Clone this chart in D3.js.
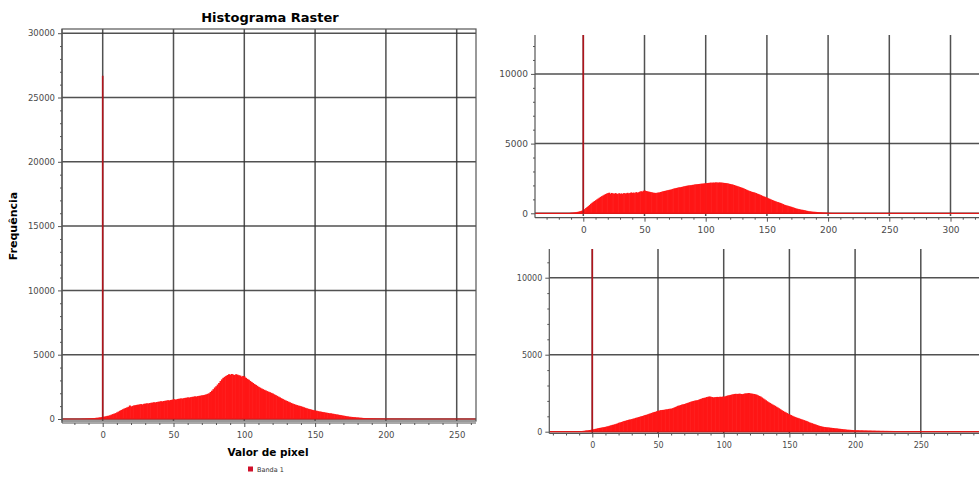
<!DOCTYPE html>
<html>
<head>
<meta charset="utf-8">
<script src="https://cdn.jsdelivr.net/npm/d3@7"></script>
<style>
  body { margin: 0; background: #fff; }
  svg { display: block; font-family: "DejaVu Sans", Verdana, sans-serif; }
</style>
</head>
<body>
<svg id="chart" width="979" height="482"></svg>
<script>
// ---------------------------- DATA ----------------------------//
// histogram counts per pixel value, first bin = start value
const startA = -15;
const countsA = [
  10, 15, 20, 25, 30, 40, 45, 55, 60, 70,
  90, 100, 115, 130, 150, 170, 190, 210, 240, 260,
  290, 340, 380, 420, 460, 520, 580, 640, 700, 760,
  810, 860, 900, 950, 1050, 980, 1020, 1060, 1080, 1100,
  1120, 1140, 1160, 1130, 1180, 1200, 1220, 1210, 1240, 1260,
  1280, 1300, 1290, 1320, 1340, 1360, 1380, 1370, 1400, 1420,
  1440, 1460, 1450, 1480, 1500, 1550, 1510, 1530, 1560, 1580,
  1600, 1590, 1620, 1640, 1660, 1680, 1670, 1700, 1720, 1740,
  1760, 1750, 1780, 1800, 1820, 1840, 1860, 1880, 1920, 1960,
  2000, 2100, 2200, 2320, 2450, 2550, 2680, 2800, 2950, 3080,
  3200, 3280, 3350, 3420, 3480, 3450, 3500, 3460, 3420, 3480,
  3450, 3400, 3380, 3300, 3350, 3300, 3200, 3120, 3050, 2960,
  2880, 2800, 2720, 2650, 2580, 2500, 2440, 2380, 2320, 2270,
  2220, 2170, 2120, 2080, 2030, 1980, 1920, 1860, 1800, 1740,
  1680, 1620, 1560, 1500, 1450, 1400, 1350, 1300, 1250, 1200,
  1160, 1120, 1080, 1050, 1020, 990, 950, 910, 870, 830,
  800, 770, 740, 710, 680, 660, 640, 610, 590, 570,
  550, 530, 510, 490, 470, 450, 440, 420, 400, 380,
  360, 340, 320, 300, 280, 260, 240, 220, 200, 185,
  170, 160, 150, 140, 130, 120, 110, 100, 90, 80,
  72, 65, 58, 52, 48, 44, 40, 36, 32, 28,
  25, 22, 20, 18, 16, 15, 14, 13, 12, 11,
  10, 10, 9, 9, 8, 8, 7, 7, 6, 6
];

const startB = -15;
const countsB = [
  10, 12, 15, 20, 25, 40, 45, 55, 65, 80,
  100, 120, 140, 170, 200, 240, 300, 380, 450, 520,
  600, 680, 750, 820, 880, 940, 1000, 1060, 1120, 1180,
  1230, 1280, 1330, 1380, 1420, 1450, 1480, 1400, 1460, 1430,
  1400, 1450, 1420, 1380, 1440, 1400, 1430, 1390, 1450, 1420,
  1440, 1470, 1430, 1460, 1500, 1460, 1490, 1450, 1520, 1480,
  1510, 1550, 1580, 1560, 1620, 1640, 1600, 1580, 1560, 1540,
  1520, 1500, 1480, 1470, 1460, 1470, 1490, 1500, 1530, 1550,
  1580, 1600, 1620, 1640, 1660, 1680, 1700, 1720, 1750, 1780,
  1800, 1820, 1840, 1860, 1870, 1890, 1910, 1930, 1950, 1970,
  1990, 2000, 2010, 2020, 2040, 2050, 2070, 2080, 2090, 2100,
  2110, 2120, 2130, 2140, 2150, 2160, 2170, 2180, 2190, 2200,
  2190, 2210, 2200, 2220, 2210, 2200, 2220, 2210, 2200, 2190,
  2180, 2170, 2160, 2140, 2120, 2100, 2080, 2060, 2030, 2000,
  1970, 1940, 1910, 1880, 1850, 1820, 1780, 1740, 1700, 1660,
  1620, 1590, 1560, 1530, 1510, 1480, 1450, 1410, 1380, 1340,
  1300, 1260, 1220, 1190, 1160, 1120, 1080, 1040, 1000, 960,
  930, 890, 860, 820, 800, 770, 740, 700, 660, 620,
  590, 560, 540, 510, 490, 460, 430, 400, 370, 340,
  320, 300, 280, 260, 250, 230, 210, 190, 170, 150,
  140, 130, 120, 110, 105, 100, 90, 80, 70, 60,
  55, 50, 45, 40, 35, 30, 28, 25, 22, 20,
  18, 16, 15, 14, 12, 10, 10, 8, 8, 6
];

const startC = -15;
const countsC = [
  10, 12, 15, 18, 22, 30, 35, 45, 55, 65,
  80, 90, 100, 110, 125, 140, 160, 180, 200, 220,
  240, 255, 270, 285, 300, 320, 340, 360, 390, 410,
  440, 460, 480, 510, 540, 580, 600, 630, 660, 690,
  710, 740, 760, 790, 800, 820, 850, 870, 900, 920,
  950, 970, 1000, 1020, 1050, 1080, 1100, 1130, 1160, 1190,
  1220, 1250, 1280, 1300, 1330, 1360, 1380, 1400, 1410, 1420,
  1430, 1450, 1460, 1480, 1490, 1500, 1530, 1560, 1600, 1640,
  1680, 1700, 1730, 1760, 1780, 1800, 1830, 1860, 1890, 1920,
  1950, 1980, 2000, 2020, 2040, 2050, 2080, 2120, 2150, 2180,
  2200, 2220, 2250, 2270, 2290, 2270, 2250, 2230, 2240, 2250,
  2260, 2250, 2270, 2260, 2280, 2270, 2300, 2330, 2350, 2370,
  2390, 2410, 2430, 2450, 2460, 2450, 2460, 2470, 2450, 2440,
  2460, 2480, 2490, 2500, 2510, 2490, 2480, 2460, 2450, 2430,
  2400, 2360, 2320, 2280, 2220, 2160, 2100, 2040, 1980, 1920,
  1870, 1820, 1770, 1720, 1680, 1620, 1570, 1520, 1460, 1400,
  1350, 1300, 1260, 1210, 1160, 1120, 1080, 1040, 1000, 960,
  930, 900, 870, 840, 810, 780, 750, 720, 690, 650,
  610, 580, 550, 520, 490, 460, 430, 400, 370, 350,
  330, 310, 300, 290, 280, 270, 260, 250, 240, 230,
  220, 210, 200, 190, 180, 170, 160, 150, 140, 130,
  125, 120, 115, 110, 105, 100, 98, 95, 92, 90,
  88, 85, 83, 80, 78, 76, 74, 72, 70, 68,
  66, 64, 62, 60, 58, 56, 55, 54, 53, 52,
  51, 50, 49, 48, 47, 46, 45, 44, 43, 42,
  41, 40, 39, 38, 37, 36, 35, 34, 33, 32,
  31, 30, 29, 28, 27, 26, 25, 24, 23, 22,
  20, 18, 16, 14, 12, 10, 8, 6, 5, 4
];

// count of pixels with value 0 (the tall spike)
const spikeA = 26700;
const spikeB = 26700;
const spikeC = 26700;

const xTicksA = [0, 50, 100, 150, 200, 250];
const yTicksA = [0, 5000, 10000, 15000, 20000, 25000, 30000];
const xTicksB = [0, 50, 100, 150, 200, 250, 300];
const yTicksB = [0, 5000, 10000];
const xTicksC = [0, 50, 100, 150, 200, 250];
const yTicksC = [0, 5000, 10000];

//------------------------- PANELS -----------------------------//
const svg = d3.select("#chart");

function drawPanel(id, p, counts, start, spike, xTicks, yTicks) {
  const x = d3.scaleLinear().domain([0, xTicks[1]]).range([p.x0, p.x50]);
  const y = d3.scaleLinear().domain([0, 5000]).range([p.y0, p.y5000]);

  const g = svg.append("g").attr("class", "panel-" + id);

  g.append("clipPath").attr("id", "clip-" + id)
    .append("rect")
    .attr("x", p.left).attr("y", p.top)
    .attr("width", p.right - p.left).attr("height", p.bottom - p.top);

  const canvas = g.append("g").attr("clip-path", "url(#clip-" + id + ")");

  // grid
  canvas.selectAll(".vgrid").data(xTicks).enter().append("line")
    .attr("x1", d => x(d)).attr("x2", d => x(d))
    .attr("y1", p.top).attr("y2", p.bottom)
    .style("stroke", "#333").style("stroke-width", 1.5).style("opacity", 0.85);
  canvas.selectAll(".hgrid").data(yTicks).enter().append("line")
    .attr("x1", p.left).attr("x2", p.right)
    .attr("y1", d => y(d)).attr("y2", d => y(d))
    .style("stroke", "#333").style("stroke-width", 1.5).style("opacity", 0.85);

  // histogram bars
  const bw = x(1) - x(0);
  canvas.selectAll(".bar").data(counts).enter().append("rect")
    .attr("x", (d, i) => x(start + i - 0.5))
    .attr("width", bw + 0.6)
    .attr("y", d => y(d))
    .attr("height", d => y(0) - y(d))
    .style("fill", "#ff1616");

  // baseline of empty bins
  canvas.append("line")
    .attr("x1", p.left).attr("x2", p.right)
    .attr("y1", y(0)).attr("y2", y(0))
    .style("stroke", "#e01818").style("stroke-width", 1.2);

  // spike at 0
  canvas.append("line")
    .attr("x1", x(0)).attr("x2", x(0))
    .attr("y1", y(0)).attr("y2", y(spike))
    .style("stroke", "#b0141c").style("stroke-width", 1.6);

  if (p.frame) {
    g.append("rect")
      .attr("x", p.left).attr("y", p.top)
      .attr("width", p.right - p.left).attr("height", p.bottom - p.top)
      .style("fill", "none").style("stroke", "#555").style("stroke-width", 1.2);
  }

  // y axis
  const yMinor = d3.range(0, y.invert(p.top), 1000).filter(v => v % 5000 !== 0);
  const yAxis = g.append("g").attr("transform", "translate(" + p.left + ",0)");
  yAxis.call(d3.axisLeft(y).tickValues(yTicks).tickSize(4).tickSizeOuter(0)
    .tickFormat(d3.format("d")));
  yAxis.append("g").call(d3.axisLeft(y).tickValues(yMinor).tickSize(2).tickFormat(""))
    .select(".domain").remove();
  yAxis.selectAll(".domain").remove();
  yAxis.selectAll("line").style("stroke", "#555");
  yAxis.selectAll("text").style("fill", "#4a4a4a").style("font-size", p.font + "px")
    .style("font-family", "DejaVu Sans");
  yAxis.append("line").attr("x1", 0).attr("x2", 0)
    .attr("y1", p.top).attr("y2", p.axisY)
    .style("stroke", "#555").style("stroke-width", 1.2);

  // x axis
  const xMinor = d3.range(Math.ceil(x.invert(p.left) / 10) * 10, x.invert(p.right), 10)
    .filter(v => v % 50 !== 0);
  const xAxis = g.append("g").attr("transform", "translate(0," + p.axisY + ")");
  xAxis.call(d3.axisBottom(x).tickValues(xTicks).tickSize(4).tickSizeOuter(0)
    .tickPadding(5).tickFormat(d3.format("d")));
  xAxis.append("g").call(d3.axisBottom(x).tickValues(xMinor).tickSize(2).tickFormat(""))
    .select(".domain").remove();
  xAxis.selectAll(".domain").remove();
  xAxis.selectAll("line").style("stroke", "#555");
  xAxis.selectAll("text").style("fill", "#4a4a4a").style("font-size", p.font + "px")
    .style("font-family", "DejaVu Sans");
  xAxis.append("line").attr("x1", p.left).attr("x2", p.right)
    .attr("y1", 0).attr("y2", 0)
    .style("stroke", "#555").style("stroke-width", 1.2);
}

drawPanel("a",
  { x0: 102.7, x50: 173.5, y0: 419, y5000: 354.7, left: 62, right: 476, top: 29, bottom: 421,
    axisY: 423, font: 8.5, frame: true },
  countsA, startA, spikeA, xTicksA, yTicksA);

drawPanel("b",
  { x0: 583.3, x50: 644.5, y0: 213.3, y5000: 143.6, left: 535, right: 985, top: 35, bottom: 216,
    axisY: 217.7, font: 9, frame: false },
  countsB, startB, spikeB, xTicksB, yTicksB);

drawPanel("c",
  { x0: 592.3, x50: 658, y0: 431.7, y5000: 354.7, left: 549.3, right: 985, top: 249, bottom: 433,
    axisY: 433.5, font: 8, frame: false },
  countsC, startC, spikeC, xTicksC, yTicksC);

//------------------------- TEXTS ------------------------------//
svg.append("text")
  .attr("x", 270).attr("y", 22)
  .attr("text-anchor", "middle")
  .style("font-size", "13px").style("font-weight", "bold")
  .text("Histograma Raster");

svg.append("text")
  .attr("x", 268).attr("y", 456)
  .attr("text-anchor", "middle")
  .style("font-size", "10.5px").style("font-weight", "bold")
  .text("Valor de pixel");

svg.append("text")
  .attr("transform", "translate(17,226) rotate(-90)")
  .attr("text-anchor", "middle")
  .style("font-size", "11px").style("font-weight", "bold")
  .text("Frequência");

// legend
svg.append("rect")
  .attr("x", 248).attr("y", 466.5).attr("width", 5).attr("height", 5)
  .style("fill", "#d0102a");
svg.append("text")
  .attr("x", 257).attr("y", 472)
  .style("font-size", "6.5px").style("fill", "#333")
  .text("Banda 1");
</script>
</body>
</html>
